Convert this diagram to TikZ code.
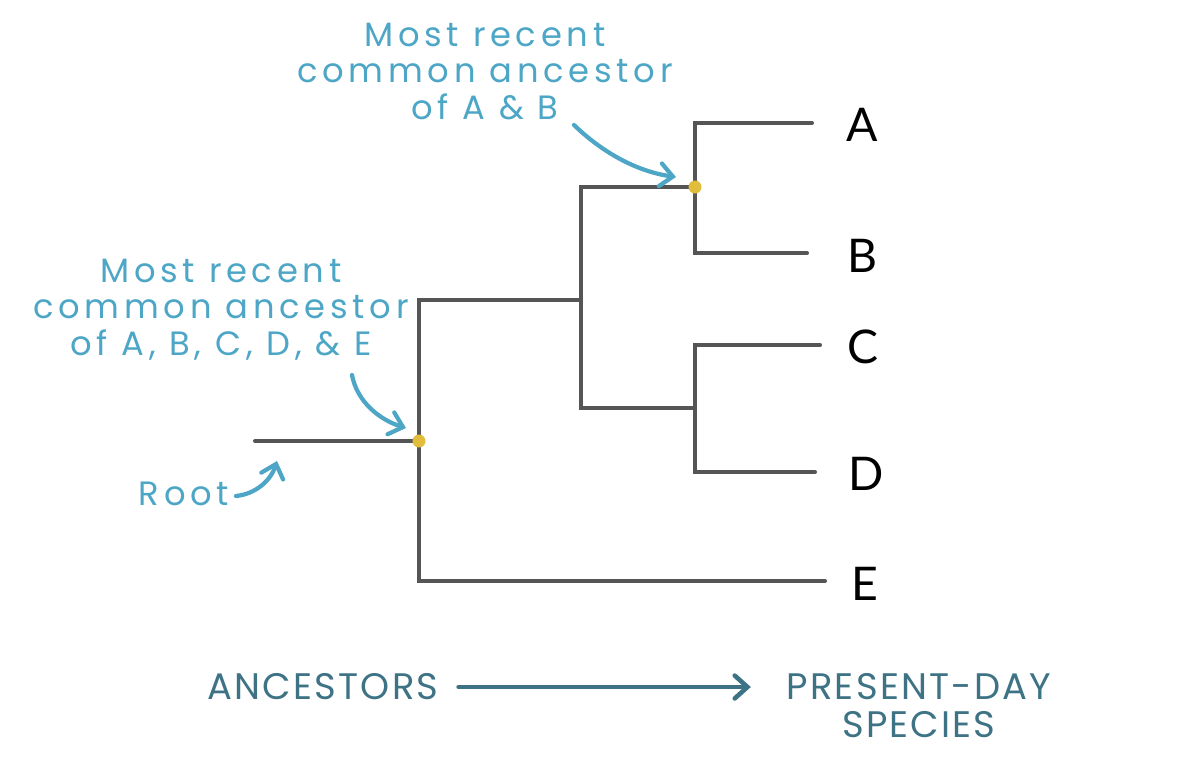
\documentclass[tikz,border=0pt]{standalone}
\usepackage{fontspec}
\setmainfont{Lato}
\newfontfamily\handfont[LetterSpace=14]{Poppins}
\newfontfamily\axisfont[LetterSpace=6]{Poppins}
\usetikzlibrary{arrows.meta}

\definecolor{branchgray}{HTML}{555555}
\definecolor{noteblue}{HTML}{4DA6C6}
\definecolor{axisteal}{HTML}{3E7386}
\definecolor{nodeyellow}{HTML}{E2BD3C}

\tikzset{
  branch/.style={line width=1.15pt, color=branchgray, line cap=round},
  leaf/.style={anchor=west, inner sep=0pt, font=\fontsize{13.2}{15}\selectfont},
  ancestor/.style={fill=nodeyellow},
  note/.style={color=noteblue, align=center, inner sep=0pt,
    font=\handfont\fontsize{9.6}{10.4}\selectfont},
  notearrow/.style={line width=1.2pt, color=noteblue, line cap=round,
    -{Straight Barb[length=3.6pt,width=6.5pt,line cap=round]}},
  axislabel/.style={color=axisteal, align=center, inner sep=0pt,
    font=\axisfont\fontsize{10.5}{10.8}\selectfont},
}

\begin{document}
\begin{tikzpicture}[x=0.01cm,y=-0.01cm]
  \useasboundingbox (0,0) rectangle (1184,772);

  % branching points
  \coordinate (root) at (255,441);
  \coordinate (abcde) at (419,441);
  \coordinate (abcd) at (581,300);
  \coordinate (ab) at (695,187);
  \coordinate (cd) at (695,408);

  % branch tips
  \coordinate (tipA) at (812,123);
  \coordinate (tipB) at (807,253);
  \coordinate (tipC) at (820,345);
  \coordinate (tipD) at (815,472);
  \coordinate (tipE) at (825,581);

  % species
  \node[leaf] (A) at (846,125) {A};
  \node[leaf] (B) at (847,256) {B};
  \node[leaf] (C) at (847,347) {C};
  \node[leaf] (D) at (848,474) {D};
  \node[leaf] (E) at (851,584) {E};

  % tree
  \draw[branch] (root) -- (abcde);
  \draw[branch] (abcde) |- (abcd);
  \draw[branch] (abcde) |- (tipE);
  \draw[branch] (abcd) |- (ab);
  \draw[branch] (abcd) |- (cd);
  \draw[branch] (ab) |- (tipA);
  \draw[branch] (ab) |- (tipB);
  \draw[branch] (cd) |- (tipC);
  \draw[branch] (cd) |- (tipD);

  \fill[ancestor] (ab) circle (6.5);
  \fill[ancestor] (abcde) circle (6.5);

  % notes
  \node[note, anchor=north] (noteAB) at (485,22) {Most recent\\common ancestor\\of A \& B};
  \node[note, anchor=north] (noteAll) at (221,258) {Most recent\\common ancestor\\of A, B, C, D, \& E};
  \node[note] (noteRoot) at (184,494) {Root};

  \coordinate (fromAB) at (574,125);
  \coordinate (toAB) at (676,177);
  \coordinate (fromAll) at (352,375);
  \coordinate (toAll) at (406,428);
  \coordinate (fromRoot) at (236,496);
  \coordinate (toRoot) at (277,461);

  \draw[notearrow] (fromAB) .. controls (605,155) and (640,172) .. (toAB);
  \draw[notearrow] (fromAll) .. controls (357,402) and (380,420) .. (toAll);
  \draw[notearrow] (fromRoot) .. controls (256,494) and (271,480) .. (toRoot);

  % time axis
  \node[axislabel, anchor=west] (past) at (207,687) {ANCESTORS};
  \node[axislabel, anchor=north west] (present) at (786,673) {PRESENT-DAY\\SPECIES};
  \draw[line width=1.3pt, color=axisteal, line cap=round,
    -{Straight Barb[length=3.6pt,width=6.5pt,line cap=round]},
    shorten <=5.5pt, shorten >=10pt] (past.east) -- (past.east -| present.west);
\end{tikzpicture}
\end{document}
